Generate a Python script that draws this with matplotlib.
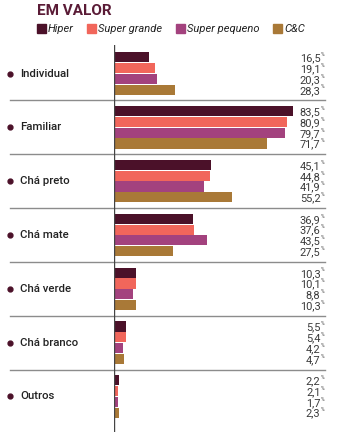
import matplotlib.pyplot as plt
from matplotlib.patches import Rectangle
import matplotlib.transforms as mtransforms

plt.rcParams['font.family'] = ['Roboto', 'DejaVu Sans']

categories = ['Individual', 'Familiar', 'Chá preto', 'Chá mate', 'Chá verde', 'Chá branco', 'Outros']
series = ['Hiper', 'Super grande', 'Super pequeno', 'C&C']
hiper = [16.5, 83.5, 45.1, 36.9, 10.3, 5.5, 2.2]
super_grande = [19.1, 80.9, 44.8, 37.6, 10.1, 5.4, 2.1]
super_pequeno = [20.3, 79.7, 41.9, 43.5, 8.8, 4.2, 1.7]
cc = [28.3, 71.7, 55.2, 27.5, 10.3, 4.7, 2.3]
colors = ['#4b1129', '#f1665b', '#a3427e', '#a97937']

W, H = 338, 432
fig = plt.figure(figsize=(W / 100, H / 100), dpi=100)

# axes box in pixels
left, right, top, bottom = 114, 338, 45, 432
ax = fig.add_axes([left / W, 1 - bottom / H, (right - left) / W, (bottom - top) / H])
px_per_unit = 2.14
ax.set_xlim(0, (right - left) / px_per_unit)
ax.set_ylim(6.66, -0.53)
ax.axis('off')

bar_h = 0.2
offsets = [-0.3, -0.1, 0.1, 0.3]
all_vals = [hiper, super_grande, super_pequeno, cc]

# separators
for k in range(len(categories) - 1):
    ax.axhline(k + 0.5, xmin=(10 - left) / (right - left), xmax=(325 - left) / (right - left),
               color='#8c8c8c', lw=1, clip_on=False, zorder=1)
ax.axvline(0, color='#444444', lw=1, zorder=3)

lab_tr = mtransforms.blended_transform_factory(fig.transFigure, ax.transData)
for vals, off, col in zip(all_vals, offsets, colors):
    ys = [i + off for i in range(len(categories))]
    ax.barh(ys, vals, height=bar_h * 0.95, color=col, zorder=2)
    for y, v in zip(ys, vals):
        ax.text(320.5 / W, y + 0.02, f'{v:.1f}'.replace('.', ','), transform=lab_tr,
                ha='right', va='center', fontsize=7.9, color='#3a3a3a')
        ax.text(321 / W, y - 0.05, '%', transform=lab_tr, ha='left', va='center',
                fontsize=3.5, color='#3a3a3a')

for i, cat in enumerate(categories):
    ax.plot([10 / W], [i], marker='o', ms=3.5, color='#4b1129', transform=lab_tr, clip_on=False)
    ax.text(20 / W, i, cat, transform=lab_tr, ha='left', va='center', fontsize=8.2,
            fontweight='medium', color='#222222')

# title and legend
fig.text(37 / W, 1 - 11 / H, 'EM VALOR', ha='left', va='center', fontsize=11, fontweight='bold',
         color='#5a1b36')
leg_x = [37, 87, 176, 273]
for x, name, col in zip(leg_x, series, colors):
    fig.patches.append(Rectangle((x / W, 1 - 33 / H), 9 / W, 9 / H, transform=fig.transFigure,
                                 color=col))
    fig.text((x + 11) / W, 1 - 28.5 / H, name, ha='left', va='center', fontsize=8,
             style='italic', color='#222222')

fig.savefig('out.png', dpi=100)
